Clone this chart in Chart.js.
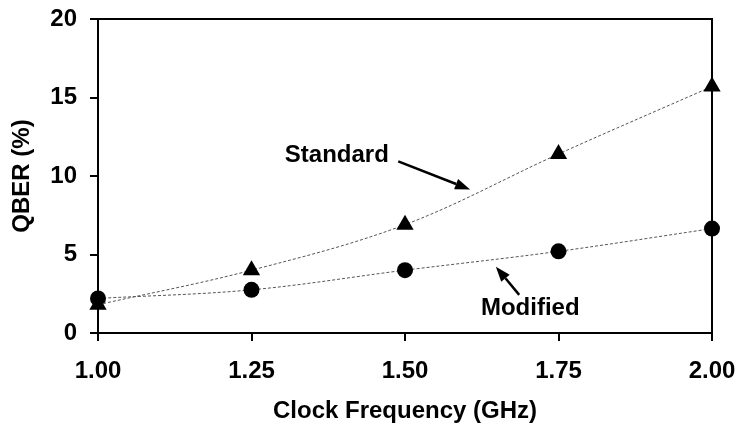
<!DOCTYPE html>
<html>
<head>
<meta charset="utf-8">
<script src="https://cdn.jsdelivr.net/npm/chart.js@4.4.0/dist/chart.umd.min.js"></script>
<style>
  html, body { margin: 0; padding: 0; background: #fff; }
  #wrap { width: 735px; height: 426px; }
</style>
</head>
<body>
<div id="wrap"><canvas id="qberChart"></canvas></div>
<script>
// values
const clockFreq = [1.00, 1.25, 1.50, 1.75, 2.00];
const freqLabels = ['1.00', '1.25', '1.50', '1.75', '2.00'];
const standardQber = [1.8, 4.0, 6.9, 11.4, 15.7];
const modifiedQber = [2.2, 2.75, 4.0, 5.2, 6.65];
const qberTicks = [0, 5, 10, 15, 20];

const FONT = '"Liberation Sans", Arial, sans-serif';
const FSIZE = 24;

// callout labels, placed in data units
const notes = [
    { text: 'Standard', at: [1.389, 11.3], from: [1.489, 10.93], to: [1.606, 9.14] },
    { text: 'Modified', at: [1.704, 1.6], from: [1.686, 2.43], to: [1.648, 4.22] }
];

const toPoints = (ys) => clockFreq.map((x, i) => ({ x: x, y: ys[i] }));

const boxAndNotes = {
    id: 'boxAndNotes',
    beforeDatasetsDraw(chart) {
        const { ctx, chartArea: a } = chart;
        ctx.save();
        ctx.strokeStyle = '#000';
        ctx.lineWidth = 2;
        ctx.beginPath();
        ctx.moveTo(a.left, a.top);
        ctx.lineTo(a.right, a.top);
        ctx.lineTo(a.right, a.bottom);
        ctx.stroke();
        ctx.restore();
    },
    afterDatasetsDraw(chart) {
        const { ctx, scales: { x, y } } = chart;
        ctx.save();
        ctx.fillStyle = '#000';
        ctx.strokeStyle = '#000';
        ctx.font = 'bold ' + FSIZE + 'px ' + FONT;
        ctx.textAlign = 'center';
        ctx.textBaseline = 'middle';
        notes.forEach(n => {
            ctx.fillText(n.text, x.getPixelForValue(n.at[0]), y.getPixelForValue(n.at[1]));

            const x0 = x.getPixelForValue(n.from[0]), y0 = y.getPixelForValue(n.from[1]);
            const x1 = x.getPixelForValue(n.to[0]), y1 = y.getPixelForValue(n.to[1]);
            const ang = Math.atan2(y1 - y0, x1 - x0);
            const head = 15, half = 5.5;
            const bx = x1 - Math.cos(ang) * head, by = y1 - Math.sin(ang) * head;

            ctx.lineWidth = 2.5;
            ctx.beginPath();
            ctx.moveTo(x0, y0);
            ctx.lineTo(bx, by);
            ctx.stroke();

            ctx.beginPath();
            ctx.moveTo(x1, y1);
            ctx.lineTo(bx - Math.sin(ang) * half, by + Math.cos(ang) * half);
            ctx.lineTo(bx + Math.sin(ang) * half, by - Math.cos(ang) * half);
            ctx.closePath();
            ctx.fill();
        });
        ctx.restore();
    }
};

const axisGrid = {
    display: true,
    drawOnChartArea: false,
    drawTicks: true,
    tickLength: 8,
    color: '#000',
    lineWidth: 2
};

new Chart(document.getElementById('qberChart'), {
    type: 'line',
    data: {
        datasets: [
            {
                label: 'Standard',
                data: toPoints(standardQber),
                borderColor: '#555',
                borderWidth: 1,
                borderDash: [3, 2],
                tension: 0.35,
                pointStyle: 'triangle',
                pointRadius: 10,
                pointBackgroundColor: '#000',
                pointBorderColor: '#000',
                pointBorderWidth: 0,
                clip: false
            },
            {
                label: 'Modified',
                data: toPoints(modifiedQber),
                borderColor: '#555',
                borderWidth: 1,
                borderDash: [3, 2],
                tension: 0.35,
                pointStyle: 'circle',
                pointRadius: 8,
                pointBackgroundColor: '#000',
                pointBorderColor: '#000',
                pointBorderWidth: 0,
                clip: false
            }
        ]
    },
    options: {
        responsive: true,
        maintainAspectRatio: false,
        animation: false,
        devicePixelRatio: 1,
        layout: { padding: { top: 19, right: 23, left: 0, bottom: 0 } },
        plugins: {
            legend: { display: false },
            tooltip: { enabled: false }
        },
        scales: {
            x: {
                type: 'linear',
                min: 1,
                max: 2,
                grid: axisGrid,
                border: { display: true, color: '#000', width: 2 },
                afterBuildTicks: (s) => { s.ticks = clockFreq.map(v => ({ value: v })); },
                afterFit: (s) => { s.height = 93; s.paddingLeft = 0; s.paddingRight = 0; },
                ticks: {
                    color: '#000',
                    padding: 16,
                    maxRotation: 0,
                    font: { family: FONT, size: FSIZE, weight: 'bold' },
                    callback: (v, i) => freqLabels[i]
                },
                title: {
                    display: true,
                    text: 'Clock Frequency (GHz)',
                    color: '#000',
                    padding: { top: 0, bottom: 0 },
                    font: { family: FONT, size: FSIZE, weight: 'bold' }
                }
            },
            y: {
                min: 0,
                max: 20,
                grid: axisGrid,
                border: { display: true, color: '#000', width: 2 },
                afterBuildTicks: (s) => { s.ticks = qberTicks.map(v => ({ value: v })); },
                afterFit: (s) => { s.width = 98; s.paddingTop = 0; s.paddingBottom = 0; },
                ticks: {
                    color: '#000',
                    padding: 13,
                    font: { family: FONT, size: FSIZE, weight: 'bold' }
                },
                title: {
                    display: true,
                    text: 'QBER (%)',
                    color: '#000',
                    padding: { top: 8, bottom: 0 },
                    font: { family: FONT, size: FSIZE, weight: 'bold' }
                }
            }
        }
    },
    plugins: [boxAndNotes]
});
</script>
</body>
</html>
